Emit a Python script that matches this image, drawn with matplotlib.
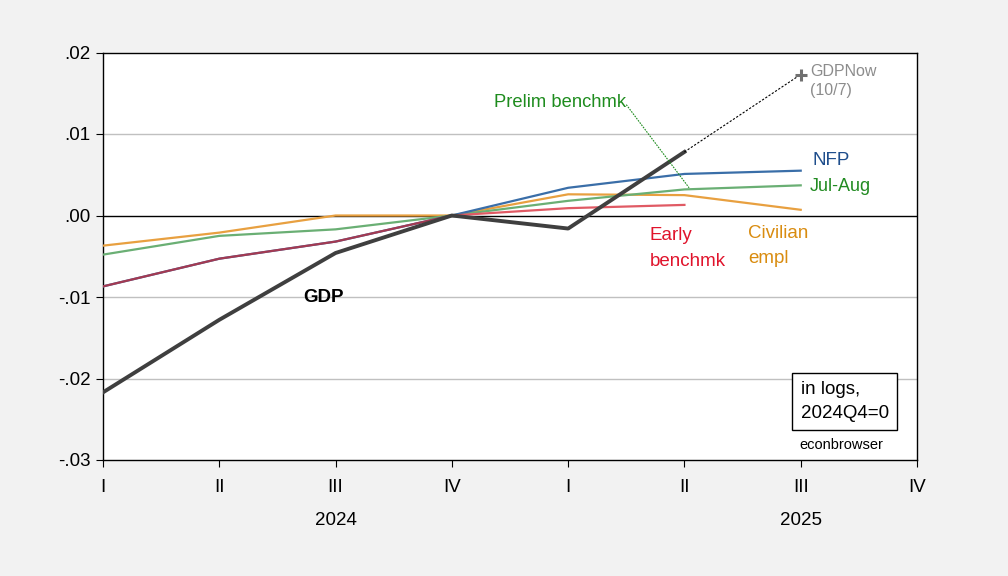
import matplotlib
matplotlib.use('Agg')
import matplotlib.pyplot as plt

plt.rcParams['font.family'] = ['Liberation Sans', 'DejaVu Sans']

# quarters 2024Q1 .. 2025Q4 -> positions 0..7
quarters = ['I', 'II', 'III', 'IV', 'I', 'II', 'III', 'IV']
years = ['2024', '2025']

# log levels relative to 2024Q4
gdp = [-0.0217, -0.0128, -0.0046, 0.0, -0.0016, 0.0078]
gdpnow = [0.0078, 0.0173]          # 2025Q2 -> 2025Q3 nowcast
nfp = [-0.0087, -0.0053, -0.0032, 0.0, 0.0034, 0.0051, 0.0055]
early_bench = [-0.0087, -0.0053, -0.0032, 0.0, 0.0009, 0.0013]
jul_aug = [-0.0048, -0.0025, -0.0017, 0.0, 0.0018, 0.0032, 0.0037]
civ_empl = [-0.0037, -0.0021, 0.0, 0.0, 0.0026, 0.0025, 0.0007]

FS = 13.5

fig = plt.figure(figsize=(10.08, 5.76), dpi=100, facecolor='#f2f2f2')
ax = fig.add_axes([103 / 1008, 1 - 460 / 576, 814 / 1008, 407.5 / 576])
ax.set_facecolor('white')

ax.set_xlim(0, 7)
ax.set_ylim(-0.03, 0.02)
ax.set_yticks([-0.03, -0.02, -0.01, 0.0, 0.01, 0.02])
ax.set_yticklabels(['-.03', '-.02', '-.01', '.00', '.01', '.02'], fontsize=FS)
for yv in [-0.02, -0.01, 0.01]:
    ax.axhline(yv, color='#c0c0c0', linewidth=1, zorder=0)
ax.axhline(0, color='black', linewidth=1, zorder=1)

ax.set_xticks(range(8))
ax.set_xticklabels(quarters, fontsize=FS)
ax.tick_params(axis='x', length=5, pad=9)
ax.tick_params(axis='y', length=5, pad=4)
for s in ax.spines.values():
    s.set_linewidth(1)
ax.text(2, -0.0374, years[0], ha='center', va='center', fontsize=FS, clip_on=False)
ax.text(6, -0.0374, years[1], ha='center', va='center', fontsize=FS, clip_on=False)

lw = 1.6
ax.plot(range(len(civ_empl)), civ_empl, color='#e8a040', linewidth=lw, zorder=3)
ax.plot(range(len(jul_aug)), jul_aug, color='#6aaf74', linewidth=lw, zorder=3)
ax.plot(range(len(nfp)), nfp, color='#3a6ea8', linewidth=lw, zorder=3)
ax.plot(range(3, len(early_bench)), early_bench[3:], color='#e05a64', linewidth=lw, zorder=4)
ax.plot(range(4), early_bench[:4], color='#a33a52', linewidth=lw, zorder=4)
ax.plot(range(len(gdp)), gdp, color='#3f3f3f', linewidth=2.8, zorder=5)
ax.plot([5, 6], gdpnow, color='black', linewidth=0.8, linestyle=(0, (2, 1.5)), zorder=5)
ax.plot([6], [gdpnow[1]], marker='+', color='#707070', markersize=9,
        markeredgewidth=2.2, zorder=6)

# labels
ax.text(6.08, 0.0165, 'GDPNow\n(10/7)', color='#8c8c8c', fontsize=11.5,
        va='center', ha='left', linespacing=1.3)
ax.text(6.1, 0.0067, 'NFP', color='#1f4e8c', fontsize=FS, va='center')
ax.text(6.08, 0.0035, 'Jul-Aug', color='#228b22', fontsize=FS - 0.5, va='center')
ax.text(4.7, -0.0025, 'Early', color='#e0142c', fontsize=FS, va='center')
ax.text(4.7, -0.0056, 'benchmk', color='#e0142c', fontsize=FS, va='center')
ax.text(5.55, -0.0022, 'Civilian', color='#d98c10', fontsize=FS, va='center')
ax.text(5.55, -0.0053, 'empl', color='#d98c10', fontsize=FS, va='center')
ax.text(1.72, -0.01, 'GDP', color='black', fontsize=FS, fontweight='bold', va='center')
ax.text(3.36, 0.0139, 'Prelim benchmk', color='#1e8c1e', fontsize=FS - 0.3, va='center')
ax.plot([4.5, 5.04], [0.0136, 0.0034], color='#1e8c1e', linewidth=0.8,
        linestyle=(0, (1.5, 1)), zorder=6)

ax.text(6.0, -0.0228, 'in logs,\n2024Q4=0', fontsize=FS, va='center', ha='left',
        linespacing=1.5,
        bbox=dict(boxstyle='square,pad=0.45', facecolor='white', edgecolor='black',
                  linewidth=1))
ax.text(5.99, -0.0281, 'econbrowser', fontsize=10.5, va='center', ha='left')

fig.savefig('out.png', dpi=100, facecolor='#f2f2f2')
